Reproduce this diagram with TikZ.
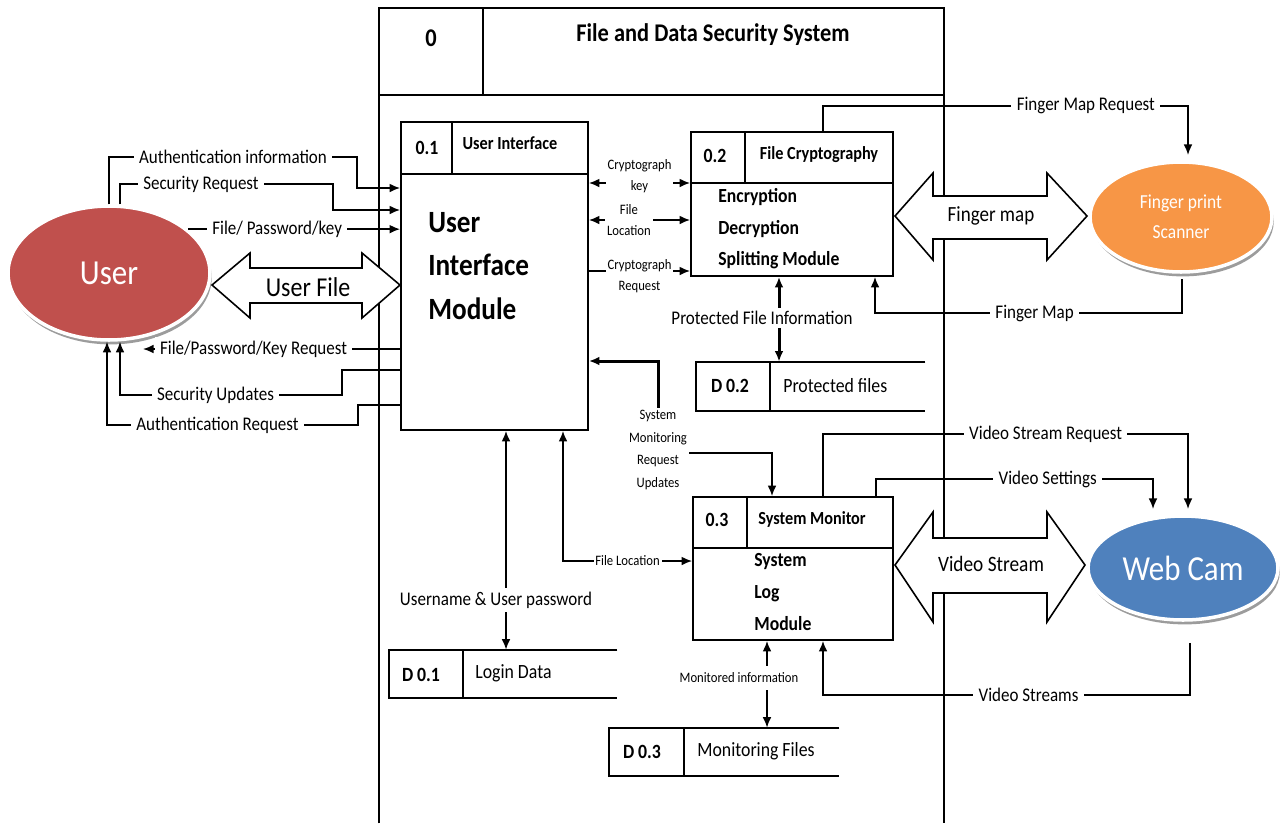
\documentclass[tikz,border=0pt]{standalone}
\usepackage{fontspec}
\setmainfont{Carlito}[FakeStretch=0.88]
\usetikzlibrary{arrows.meta,shapes.geometric,shadows,fit}
\definecolor{userred}{HTML}{C0504D}
\definecolor{fporange}{HTML}{F79646}
\definecolor{camblue}{HTML}{4F81BD}

\begin{document}
\begin{tikzpicture}[x=0.02cm,y=-0.02cm,>={Latex[length=6pt,width=5pt]}]
\tikzset{every node/.append style={inner sep=0pt}}
\tikzset{boxline/.style={line width=1pt},proc/.style={draw,line width=1pt}}
\tikzset{flow/.style={line width=0.9pt,->},bigflow/.style={line width=1.7pt,->}}
\tikzset{lbl/.style={fill=white,inner xsep=3pt,inner ysep=2pt,font=\fontsize{11}{13}\selectfont}}
\tikzset{smlbl/.style={fill=white,inner sep=1pt,align=center,font=\fontsize{8.2}{12}\selectfont}}
\tikzset{numtxt/.style={font=\fontsize{11.5}{13}\selectfont\bfseries},hdrtxt/.style={font=\fontsize{10.5}{12}\selectfont\bfseries}}
\tikzset{bodytxt/.style={anchor=west,align=left,font=\fontsize{11.4}{18}\selectfont\bfseries},nametxt/.style={anchor=west,font=\fontsize{11.5}{13}\selectfont}}
\tikzset{ent/.style={ellipse,draw=white,line width=2pt,text=white,align=center,drop shadow={shadow xshift=1pt,shadow yshift=-2.5pt,fill=black!55,opacity=0.7}}}
\tikzset{blk/.style={draw,fill=white,line width=0.9pt}}
\fill[white] (0,0) rectangle (1280,823);
\useasboundingbox (0,0) rectangle (1280,823);
% system frame
\node[fit={(379,8) (944,823)}] (sys) {};
\draw[boxline] (sys.south west) -- (sys.north west) -- (sys.north east) -- (sys.south east)
  (sys.west |- 0,95) -- (sys.east |- 0,95) (483,8) -- (483,95);
\node[font=\fontsize{14.5}{17}\selectfont\bfseries] (sysnum) at (431,38) {0};
\node[font=\fontsize{14.5}{17}\selectfont\bfseries] (systitle) at (713,35) {File and Data Security System};
% processes
\node[proc,fit={(401,122) (588,430)}] (ui) {};
\node[proc,fit={(691,132) (893,276)}] (fc) {};
\node[proc,fit={(693,497) (893,640)}] (sm) {};
\draw[boxline] (ui.west |- 0,174) -- (ui.east |- 0,174) (452,122) -- (452,174)
  (fc.west |- 0,183) -- (fc.east |- 0,183) (745,132) -- (745,183)
  (sm.west |- 0,548) -- (sm.east |- 0,548) (747,497) -- (747,548);
\node[numtxt] (uinum) at (427,148) {0.1};
\node[hdrtxt] (uihdr) at (510,143) {User Interface};
\node[bodytxt,font=\fontsize{17.6}{25}\selectfont\bfseries] (uibody) at (428,266) {User\\Interface\\Module};
\node[numtxt] (fcnum) at (715,156) {0.2};
\node[hdrtxt] (fchdr) at (819,155) {File Cryptography};
\node[bodytxt] (fcbody) at (718,229) {Encryption\\Decryption\\Splitting Module};
\node[numtxt] (smnum) at (717,520) {0.3};
\node[hdrtxt] (smhdr) at (812,519) {System Monitor};
\node[bodytxt] (smbody) at (754,592) {System\\Log\\Module};
% data stores
\node[fit={(696,362) (925,411)}] (pf) {};
\node[fit={(389,650) (617,698)}] (ld) {};
\node[fit={(609,728) (839,776)}] (mf) {};
\draw[boxline] (pf.north east) -- (pf.north west) -- (pf.south west) -- (pf.south east) (770,362) -- (770,411)
  (ld.north east) -- (ld.north west) -- (ld.south west) -- (ld.south east) (463,650) -- (463,698)
  (mf.north east) -- (mf.north west) -- (mf.south west) -- (mf.south east) (684,728) -- (684,776);
\node[numtxt] (pfnum) at (730,386) {D 0.2};
\node[nametxt] (pfname) at (783,386) {Protected files};
\node[numtxt] (ldnum) at (421,675) {D 0.1};
\node[nametxt] (ldname) at (475,673) {Login Data};
\node[numtxt] (mfnum) at (642,752) {D 0.3};
\node[nametxt] (mfname) at (697,751) {Monitoring Files};
% external entities
\node[ent,fill=userred,minimum width=4.04cm,minimum height=2.68cm,font=\fontsize{20}{24}\selectfont] (user) at (109,273) {User};
\node[ent,fill=fporange,minimum width=3.64cm,minimum height=2.2cm,font=\fontsize{11.3}{17}\selectfont] (fps) at (1181,217) {Finger print\\Scanner};
\node[ent,fill=camblue,minimum width=3.8cm,minimum height=2.08cm,font=\fontsize{20}{24}\selectfont] (wc) at (1183,568) {Web Cam};
% block arrows
\draw[blk] (212,285) -- (250,253) -- (250,268) -- (362,268) -- (362,253) -- (400,285)
  -- (362,318) -- (362,303) -- (250,303) -- (250,318) -- cycle;
\node[font=\fontsize{15.5}{18}\selectfont] (ufile) at (308,287) {User File};
\draw[blk] (895,216) -- (933,173) -- (933,196) -- (1047,196) -- (1047,173) -- (1087,216)
  -- (1047,260) -- (1047,239) -- (933,239) -- (933,260) -- cycle;
\node[font=\fontsize{12.3}{15}\selectfont] (fmap) at (991,216) {Finger map};
\draw[blk] (895,565) -- (933,512) -- (933,538) -- (1047,538) -- (1047,512) -- (1085,565)
  -- (1047,622) -- (1047,593) -- (933,593) -- (933,622) -- cycle;
\node[font=\fontsize{12.5}{15}\selectfont] (vstream) at (991,564) {Video Stream};
% user flows
\coordinate (fpkend) at (143,349);
\draw[flow] (user.north) -- (109,157) -- node[lbl]{Authentication information} (357,157) -- (357,188) -- (ui.west |- 0,188);
\draw[flow] (user.north -| 120,0) -- (120,184) -- node[lbl,pos=0.38]{Security Request} (333,184) -- (333,210) -- (ui.west |- 0,210);
\draw[flow] (user.29) -- node[lbl,pos=0.42]{File/ Password/key} (ui.west |- user.29);
\draw[flow] (ui.west |- 0,349) -- node[lbl,pos=0.57]{File/Password/Key Request} (fpkend);
\draw[flow] (ui.west |- 0,370) -- (342,370) -- (342,395) -- node[lbl,pos=0.57]{Security Updates} (120,395) -- (user.south -| 120,0);
\draw[flow] (ui.west |- 0,405) -- (358,405) -- (358,425) -- node[lbl,pos=0.56]{Authentication Request} (107,425) -- (user.south -| 107,0);
% inner flows
\draw[flow,<->] (ui.east |- 0,183) -- node[smlbl,yshift=4pt]{Cryptograph\\key} (fc.west |- 0,183);
\draw[flow,<->] (ui.east |- 0,220) -- node[smlbl,xshift=-6pt]{File\\Location} (fc.west |- 0,220);
\draw[flow] (ui.east |- 0,271) -- node[smlbl,yshift=-3pt]{Cryptograph\\Request} (fc.west |- 0,271);
\draw[bigflow,<->] (fc.south -| 779,0) -- (pf.north -| 779,0);
\node[lbl] (pfinfo) at (762,318) {Protected File Information};
\node[smlbl,font=\fontsize{8.2}{13}\selectfont] (smreq) at (658,450) {System\\Monitoring\\Request\\Updates};
\draw[bigflow] (smreq.north) |- (ui.east |- 0,361);
\draw[flow] (smreq.east |- 0,453) -| (sm.north -| 772,0);
\draw[flow,<->] (ui.south -| 563,0) |- node[smlbl,pos=0.75]{File Location} (sm.west |- 0,561);
\draw[flow,<->] (ui.south -| 506,0) -- (ld.north -| 506,0);
\node[lbl] (upw) at (496,600) {Username \& User password};
\draw[flow,<->] (sm.south -| 767,0) -- (mf.north -| 767,0);
\node[smlbl,inner ysep=4pt] (moninfo) at (739,678) {Monitored information};
% device flows
\draw[flow,shorten >=3pt] (fc.north -| 823,0) -- (823,106) -- node[lbl,pos=0.72]{Finger Map Request} (1188,106) -- (fps.north -| 1188,0);
\draw[flow,shorten <=3pt] (fps.south -| 1182,0) -- (1182,313) -- node[lbl,pos=0.48]{Finger Map} (875,313) -- (fc.south -| 875,0);
\draw[flow,shorten >=3pt] (sm.north -| 823,0) -- (823,434) -- node[lbl,pos=0.61]{Video Stream Request} (1188,434) -- (wc.north -| 1188,0);
\draw[flow,shorten >=3pt] (sm.north -| 876,0) -- (876,479) -- node[lbl,pos=0.62]{Video Settings} (1153,479) -- (wc.north -| 1153,0);
\draw[flow,shorten <=12pt] (wc.south -| 1190,0) -- (1190,695) -- node[lbl,pos=0.44]{Video Streams} (823,695) -- (sm.south -| 823,0);
\end{tikzpicture}
\end{document}
